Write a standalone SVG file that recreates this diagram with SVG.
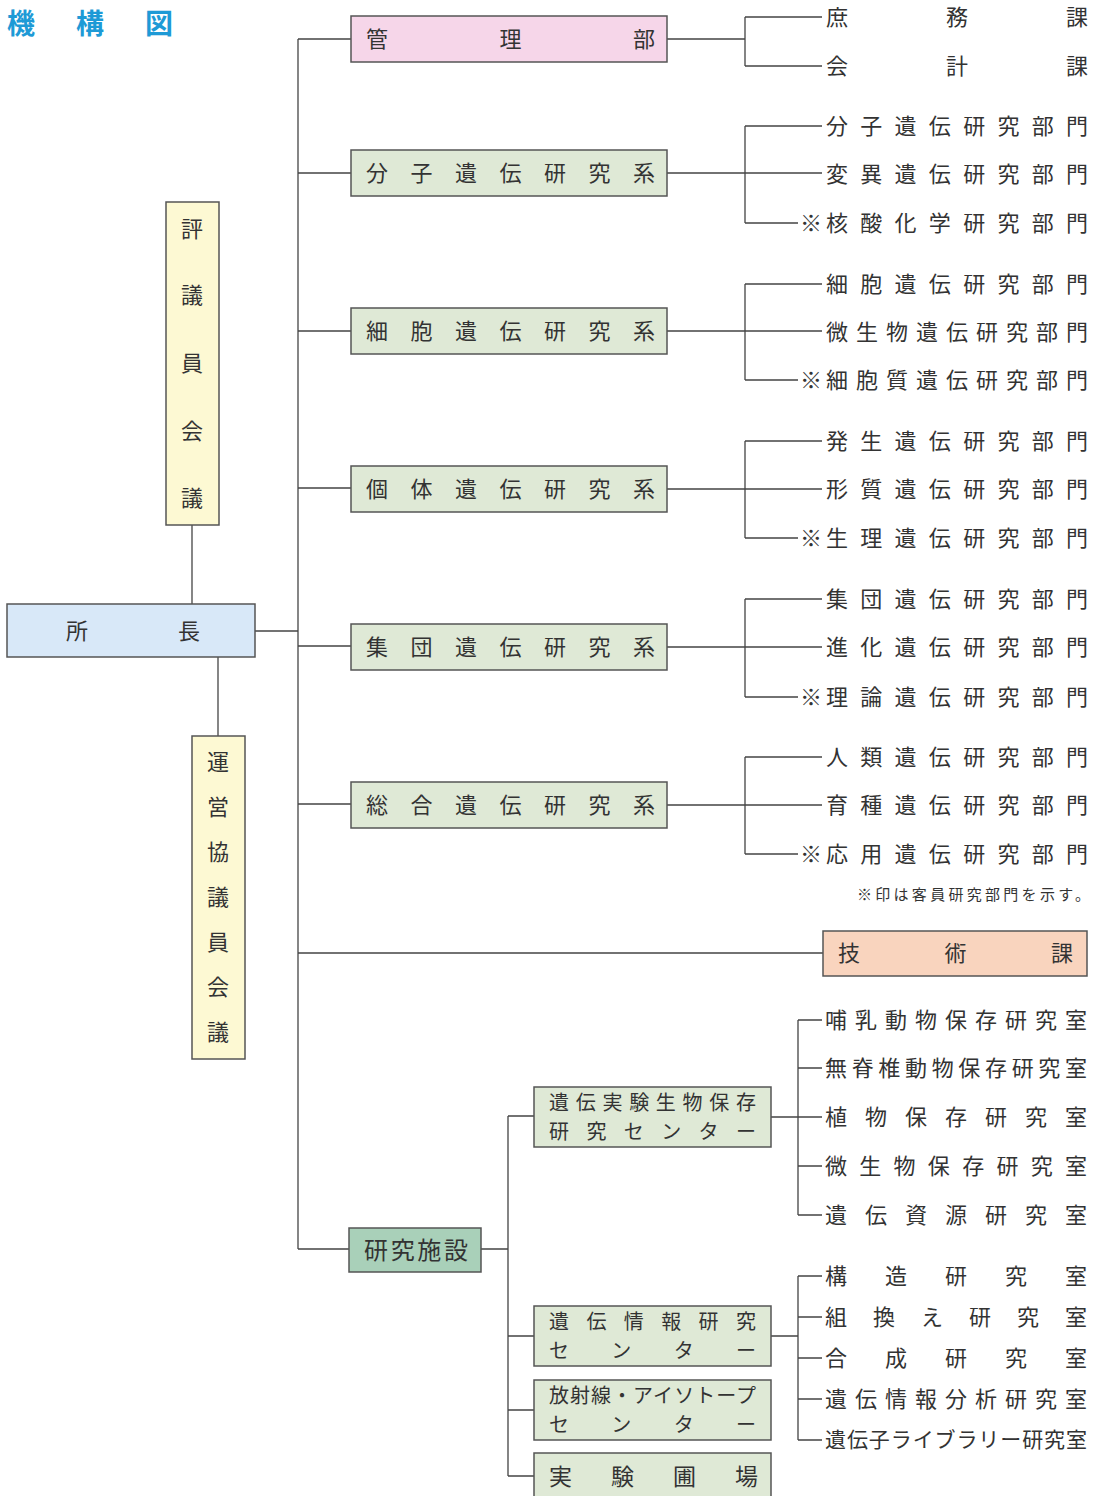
<svg xmlns="http://www.w3.org/2000/svg" width="1099" height="1496" viewBox="0 0 1099 1496">
<style>
.t{font-family:"Noto Sans CJK JP","Noto Sans CJK SC",sans-serif;fill:#333;dominant-baseline:central}
.b{stroke:#555;stroke-width:1.5}
.pink{fill:#f6d6e9}.grn{fill:#dfe9d6}.blue{fill:#d8e8f8}.yel{fill:#fdf9d3}.peach{fill:#f9d4be}.dg{fill:#a9d0b9}
#connectors path{fill:none;stroke:#444;stroke-width:1.3}
.title{font-family:"Noto Sans CJK JP",sans-serif;font-weight:bold;fill:#1e9ad6;font-size:28px;dominant-baseline:central}
</style>
<rect width="1099" height="1496" fill="#ffffff"/>
<text class="title" x="7" y="22" textLength="166" lengthAdjust="spacing">機構図</text>

<g id="connectors">
<path d="M298 39V1249"/>
<path d="M255 631H298"/>
<path d="M192 525V604"/>
<path d="M218 657V736"/>
<path d="M298 39H351M298 173H351M298 331H351M298 488H351M298 646H351M298 804H351M298 953H823M298 1249H349"/>
<path d="M667 39H745M745 17V66M745 17H822M745 66H822"/>
<path d="M667 173H822M745 126V223M745 126H822M745 223H798"/>
<path d="M667 331H822M745 284V380M745 284H822M745 380H798"/>
<path d="M667 489H822M745 441V538M745 441H822M745 538H798"/>
<path d="M667 647H822M745 599V697M745 599H822M745 697H798"/>
<path d="M667 805H822M745 757V854M745 757H822M745 854H798"/>
<path d="M481 1249H508M508 1116V1476M508 1116H534M508 1336H534M508 1410H534M508 1476H534"/>
<path d="M771 1117H822M798 1020V1215M798 1020H822M798 1068H822M798 1166H822M798 1215H822"/>
<path d="M771 1336H798M798 1276V1440M798 1276H822M798 1317H822M798 1358H822M798 1399H822M798 1440H822"/>
</g>

<g id="n-shocho"><rect class="b blue" x="7" y="604" width="248" height="53"/>
<text class="t" x="66" y="629" font-size="22" textLength="134" lengthAdjust="spacing">所長</text></g>

<g id="n-hyogi"><rect class="b yel" x="166" y="202" width="53" height="323"/>
<g font-size="22" text-anchor="middle"><text class="t" x="192" y="227">評</text><text class="t" x="192" y="293">議</text><text class="t" x="192" y="361">員</text><text class="t" x="192" y="429">会</text><text class="t" x="192" y="496">議</text></g></g>

<g id="n-unei"><rect class="b yel" x="192" y="736" width="53" height="323"/>
<g font-size="22" text-anchor="middle"><text class="t" x="218" y="760">運</text><text class="t" x="218" y="805">営</text><text class="t" x="218" y="850">協</text><text class="t" x="218" y="895">議</text><text class="t" x="218" y="940">員</text><text class="t" x="218" y="985">会</text><text class="t" x="218" y="1030">議</text></g></g>

<g id="n-kanri"><rect class="b pink" x="351" y="16" width="316" height="46"/>
<text class="t" x="366" y="37" font-size="22" textLength="289" lengthAdjust="spacing">管理部</text></g>
<g id="n-bunshi"><rect class="b grn" x="351" y="150" width="316" height="46"/>
<text class="t" x="366" y="171" font-size="22" textLength="289" lengthAdjust="spacing">分子遺伝研究系</text></g>
<g id="n-saibo"><rect class="b grn" x="351" y="308" width="316" height="46"/>
<text class="t" x="366" y="329" font-size="22" textLength="289" lengthAdjust="spacing">細胞遺伝研究系</text></g>
<g id="n-kotai"><rect class="b grn" x="351" y="466" width="316" height="46"/>
<text class="t" x="366" y="487" font-size="22" textLength="289" lengthAdjust="spacing">個体遺伝研究系</text></g>
<g id="n-shudan"><rect class="b grn" x="351" y="624" width="316" height="46"/>
<text class="t" x="366" y="645" font-size="22" textLength="289" lengthAdjust="spacing">集団遺伝研究系</text></g>
<g id="n-sogo"><rect class="b grn" x="351" y="782" width="316" height="46"/>
<text class="t" x="366" y="803" font-size="22" textLength="289" lengthAdjust="spacing">総合遺伝研究系</text></g>

<g id="items-kanri" font-size="22">
<text class="t" x="826" y="15" textLength="262" lengthAdjust="spacing">庶務課</text>
<text class="t" x="826" y="64" textLength="262" lengthAdjust="spacing">会計課</text></g>
<g id="items-bunshi" font-size="22">
<text class="t" x="826" y="124" textLength="262" lengthAdjust="spacing">分子遺伝研究部門</text>
<text class="t" x="826" y="172" textLength="262" lengthAdjust="spacing">変異遺伝研究部門</text>
<text class="t" x="800" y="221">※<tspan x="826" textLength="262" lengthAdjust="spacing">核酸化学研究部門</tspan></text></g>
<g id="items-saibo" font-size="22">
<text class="t" x="826" y="282" textLength="262" lengthAdjust="spacing">細胞遺伝研究部門</text>
<text class="t" x="826" y="330" textLength="262" lengthAdjust="spacing">微生物遺伝研究部門</text>
<text class="t" x="800" y="378">※<tspan x="826" textLength="262" lengthAdjust="spacing">細胞質遺伝研究部門</tspan></text></g>
<g id="items-kotai" font-size="22">
<text class="t" x="826" y="439" textLength="262" lengthAdjust="spacing">発生遺伝研究部門</text>
<text class="t" x="826" y="487" textLength="262" lengthAdjust="spacing">形質遺伝研究部門</text>
<text class="t" x="800" y="536">※<tspan x="826" textLength="262" lengthAdjust="spacing">生理遺伝研究部門</tspan></text></g>
<g id="items-shudan" font-size="22">
<text class="t" x="826" y="597" textLength="262" lengthAdjust="spacing">集団遺伝研究部門</text>
<text class="t" x="826" y="645" textLength="262" lengthAdjust="spacing">進化遺伝研究部門</text>
<text class="t" x="800" y="695">※<tspan x="826" textLength="262" lengthAdjust="spacing">理論遺伝研究部門</tspan></text></g>
<g id="items-sogo" font-size="22">
<text class="t" x="826" y="755" textLength="262" lengthAdjust="spacing">人類遺伝研究部門</text>
<text class="t" x="826" y="803" textLength="262" lengthAdjust="spacing">育種遺伝研究部門</text>
<text class="t" x="800" y="852">※<tspan x="826" textLength="262" lengthAdjust="spacing">応用遺伝研究部門</tspan></text></g>

<text class="t" x="857" y="893" font-size="15" textLength="233" lengthAdjust="spacing">※印は客員研究部門を示す。</text>

<g id="n-gijutsu"><rect class="b peach" x="823" y="931" width="264" height="45"/>
<text class="t" x="838" y="951" font-size="22" textLength="235" lengthAdjust="spacing">技術課</text></g>

<g id="n-shisetsu"><rect class="b dg" x="349" y="1228" width="132" height="44"/>
<text class="t" x="364" y="1248" font-size="24" textLength="104" lengthAdjust="spacing">研究施設</text></g>

<g id="n-hozon"><rect class="b grn" x="534" y="1087" width="237" height="60"/>
<text class="t" x="549" y="1101" font-size="20" textLength="207" lengthAdjust="spacing">遺伝実験生物保存</text>
<text class="t" x="549" y="1130" font-size="20" textLength="207" lengthAdjust="spacing">研究センター</text></g>
<g id="n-joho"><rect class="b grn" x="534" y="1306" width="237" height="60"/>
<text class="t" x="549" y="1320" font-size="20" textLength="207" lengthAdjust="spacing">遺伝情報研究</text>
<text class="t" x="549" y="1349" font-size="20" textLength="207" lengthAdjust="spacing">センター</text></g>
<g id="n-hoshasen"><rect class="b grn" x="534" y="1380" width="237" height="60"/>
<text class="t" x="549" y="1394" font-size="20" textLength="207" lengthAdjust="spacing">放射線・アイソトープ</text>
<text class="t" x="549" y="1423" font-size="20" textLength="207" lengthAdjust="spacing">センター</text></g>
<g id="n-hojo"><rect class="b grn" x="534" y="1453" width="237" height="50"/>
<text class="t" x="549" y="1475" font-size="23" textLength="209" lengthAdjust="spacing">実験圃場</text></g>

<g id="items-hozon" font-size="22">
<text class="t" x="825" y="1018" textLength="262" lengthAdjust="spacing">哺乳動物保存研究室</text>
<text class="t" x="825" y="1066" textLength="262" lengthAdjust="spacing">無脊椎動物保存研究室</text>
<text class="t" x="825" y="1115" textLength="262" lengthAdjust="spacing">植物保存研究室</text>
<text class="t" x="825" y="1164" textLength="262" lengthAdjust="spacing">微生物保存研究室</text>
<text class="t" x="825" y="1213" textLength="262" lengthAdjust="spacing">遺伝資源研究室</text></g>
<g id="items-joho" font-size="22">
<text class="t" x="825" y="1274" textLength="262" lengthAdjust="spacing">構造研究室</text>
<text class="t" x="825" y="1315" textLength="262" lengthAdjust="spacing">組換え研究室</text>
<text class="t" x="825" y="1356" textLength="262" lengthAdjust="spacing">合成研究室</text>
<text class="t" x="825" y="1397" textLength="262" lengthAdjust="spacing">遺伝情報分析研究室</text>
<text class="t" x="825" y="1438" font-size="21" textLength="262" lengthAdjust="spacing">遺伝子ライブラリー研究室</text></g>
</svg>
